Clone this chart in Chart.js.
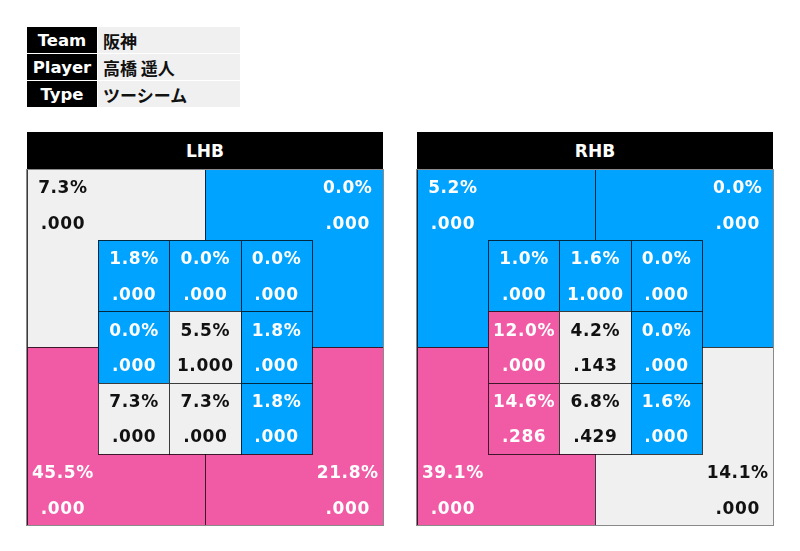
<!DOCTYPE html>
<html>
<head>
<meta charset="utf-8">
<script src="https://cdn.jsdelivr.net/npm/chart.js@4"></script>
<style>
  body { margin: 0; background: #fff; width: 800px; height: 551px; position: relative; overflow: hidden;
         font-family: "DejaVu Sans", "Noto Sans CJK JP", sans-serif; font-weight: bold; }
  .lab, .val { position: absolute; height: 26px; line-height: 27px; font-size: 16.5px; }
  .lab { left: 27px; width: 70px; background: #000; color: #fff; text-align: center; }
  .val { left: 98px; width: 137px; padding-left: 5px; background: #f0f0f0; color: #111; font-size: 17px;
         font-family: "Noto Sans CJK JP", "DejaVu Sans", sans-serif; }
  .ttl { position: absolute; top: 132px; width: 356px; height: 37px; line-height: 38px; background: #000;
         color: #fff; text-align: center; font-size: 17px; }
  canvas { position: absolute; top: 168px; }
</style>
</head>
<body>
<div id="info"></div>
<div class="ttl" style="left:27px">LHB</div>
<div class="ttl" style="left:417px">RHB</div>
<canvas id="chartLHB" width="358" height="358" style="left:26px"></canvas>
<canvas id="chartRHB" width="358" height="358" style="left:416px"></canvas>
<script>
const infoLabels = ['Team', 'Player', 'Type'];
const infoValues = ['阪神', '高橋 遥人', 'ツーシーム'];

// outer quadrants: top-left, top-right, bottom-left, bottom-right
const lhbOuterPct = [7.3, 0.0, 45.5, 21.8];
const lhbOuterAvg = [0, 0, 0, 0];
// inner 3x3, row by row from the top
const lhbInnerPct = [1.8, 0.0, 0.0, 0.0, 5.5, 1.8, 7.3, 7.3, 1.8];
const lhbInnerAvg = [0, 0, 0, 0, 1, 0, 0, 0, 0];

const rhbOuterPct = [5.2, 0.0, 39.1, 14.1];
const rhbOuterAvg = [0, 0, 0, 0];
const rhbInnerPct = [1.0, 1.6, 0.0, 12.0, 4.2, 0.0, 14.6, 6.8, 1.6];
const rhbInnerAvg = [0, 1, 0, 0, 0.143, 0, 0.286, 0.429, 0];

const BLUE = '#00a3ff', PINK = '#f15ba6', GREY = '#f0f0f0';

const info = document.getElementById('info');
infoLabels.forEach((l, i) => {
  const top = 27 + i * 27;
  info.innerHTML += `<div class="lab" style="top:${top}px">${l}</div><div class="val" style="top:${top}px">${infoValues[i]}</div>`;
});

function zoneColor(pct, outer) {
  const lo = outer ? 6 : 3, hi = outer ? 20 : 10;
  return pct < lo ? BLUE : (pct >= hi ? PINK : GREY);
}
function fmtAvg(v) {
  const s = v.toFixed(3);
  return s.startsWith('0') ? s.slice(1) : s;
}

function buildPoints(outerPct, outerAvg, innerPct, innerAvg) {
  const pts = [];
  outerPct.forEach((p, i) => {
    const c = i % 2, r = Math.floor(i / 2);
    pts.push({ x: c ? 4.5 : 0.5, y: r ? 4.5 : 0.5, x0: c * 2.5, x1: c * 2.5 + 2.5, y0: r * 2.5, y1: r * 2.5 + 2.5,
               pct: p, avg: outerAvg[i], outer: true });
  });
  innerPct.forEach((p, i) => {
    const c = i % 3, r = Math.floor(i / 3);
    pts.push({ x: 1.5 + c, y: 1.5 + r, x0: 1 + c, x1: 2 + c, y0: 1 + r, y1: 2 + r,
               pct: p, avg: innerAvg[i], outer: false });
  });
  return pts;
}

const zonePlugin = {
  id: 'zone',
  beforeDatasetsDraw(chart) {
    const { ctx, scales: { x, y } } = chart;
    ctx.save();
    ctx.lineWidth = 1;
    ctx.strokeStyle = 'rgba(0,0,0,0.75)';
    chart.data.datasets[0].data.forEach(d => {
      const x0 = Math.round(x.getPixelForValue(d.x0)), x1 = Math.round(x.getPixelForValue(d.x1));
      const y0 = Math.round(y.getPixelForValue(d.y0)), y1 = Math.round(y.getPixelForValue(d.y1));
      ctx.fillStyle = zoneColor(d.pct, d.outer);
      ctx.fillRect(x0, y0, x1 - x0, y1 - y0);
      ctx.strokeRect(x0 + 0.5, y0 + 0.5, x1 - x0, y1 - y0);
    });
    const a = chart.chartArea;
    ctx.strokeStyle = '#8a8a8a';
    ctx.strokeRect(Math.round(a.left) - 0.5, Math.round(a.top) + 0.5, Math.round(a.right - a.left) + 1, Math.round(a.bottom - a.top));
    ctx.restore();
  },
  afterDatasetsDraw(chart) {
    const { ctx, scales: { x, y } } = chart;
    ctx.save();
    ctx.font = 'bold 17px "DejaVu Sans"';
    ctx.letterSpacing = '0.6px';
    ctx.textAlign = 'center';
    ctx.textBaseline = 'middle';
    chart.data.datasets[0].data.forEach(d => {
      ctx.fillStyle = zoneColor(d.pct, d.outer) === GREY ? '#111' : '#fff';
      const px = x.getPixelForValue(d.x) + 0.3;
      ctx.fillText(d.pct.toFixed(1) + '%', px, y.getPixelForValue(d.y - 0.25) + 2);
      ctx.fillText(fmtAvg(d.avg), px, y.getPixelForValue(d.y + 0.25) + 2);
    });
    ctx.restore();
  }
};

function makeChart(id, pts) {
  new Chart(document.getElementById(id), {
    type: 'scatter',
    data: { datasets: [{ data: pts, pointRadius: 0, pointHoverRadius: 0 }] },
    options: {
      responsive: false,
      animation: false,
      layout: { padding: 1 },
      plugins: { legend: { display: false }, tooltip: { enabled: false } },
      scales: {
        x: { type: 'linear', min: 0, max: 5, display: false },
        y: { type: 'linear', min: 0, max: 5, reverse: true, display: false }
      }
    },
    plugins: [zonePlugin]
  });
}

makeChart('chartLHB', buildPoints(lhbOuterPct, lhbOuterAvg, lhbInnerPct, lhbInnerAvg));
makeChart('chartRHB', buildPoints(rhbOuterPct, rhbOuterAvg, rhbInnerPct, rhbInnerAvg));
</script>
</body>
</html>
